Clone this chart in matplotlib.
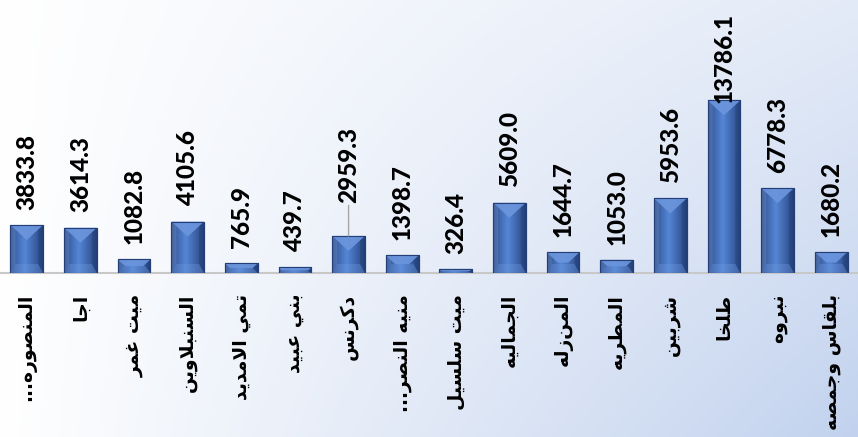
import numpy as np
import matplotlib
matplotlib.use("Agg")
import matplotlib.pyplot as plt
from matplotlib.patches import Polygon

# data
districts = ["المنصوره...", "اجا", "ميت غمر", "السنبلاوين", "تمي الامديد",
             "بني عبيد", "دكرنس", "منيه النصر...", "ميت سلسيل", "الجماليه",
             "المنزله", "المطريه", "شربين", "طلخا", "نبروه", "بلقاس وجمصه"]
values = [3833.8, 3614.3, 1082.8, 4105.6, 765.9, 439.7, 2959.3, 1398.7,
          326.4, 5609.0, 1644.7, 1053.0, 5953.6, 13786.1, 6778.3, 1680.2]

# --- minimal Arabic shaping (presentation forms) + RTL ordering ---
FORMS = {  # isolated, final, initial, medial
    "ا": (0xFE8D, 0xFE8E, None, None), "ب": (0xFE8F, 0xFE90, 0xFE91, 0xFE92),
    "ت": (0xFE95, 0xFE96, 0xFE97, 0xFE98), "ج": (0xFE9D, 0xFE9E, 0xFE9F, 0xFEA0),
    "خ": (0xFEA5, 0xFEA6, 0xFEA7, 0xFEA8), "د": (0xFEA9, 0xFEAA, None, None),
    "ر": (0xFEAD, 0xFEAE, None, None), "س": (0xFEB1, 0xFEB2, 0xFEB3, 0xFEB4),
    "ش": (0xFEB5, 0xFEB6, 0xFEB7, 0xFEB8), "ص": (0xFEB9, 0xFEBA, 0xFEBB, 0xFEBC),
    "ط": (0xFEC1, 0xFEC2, 0xFEC3, 0xFEC4), "ع": (0xFEC9, 0xFECA, 0xFECB, 0xFECC),
    "غ": (0xFECD, 0xFECE, 0xFECF, 0xFED0), "ق": (0xFED5, 0xFED6, 0xFED7, 0xFED8),
    "ك": (0xFED9, 0xFEDA, 0xFEDB, 0xFEDC), "ل": (0xFEDD, 0xFEDE, 0xFEDF, 0xFEE0),
    "م": (0xFEE1, 0xFEE2, 0xFEE3, 0xFEE4), "ن": (0xFEE5, 0xFEE6, 0xFEE7, 0xFEE8),
    "ه": (0xFEE9, 0xFEEA, 0xFEEB, 0xFEEC), "و": (0xFEED, 0xFEEE, None, None),
    "ي": (0xFEF1, 0xFEF2, 0xFEF3, 0xFEF4),
}


def joins_next(c):
    return c in FORMS and FORMS[c][2] is not None


def shape(text):
    out = []
    i = 0
    n = len(text)
    while i < n:
        c = text[i]
        if c not in FORMS:
            out.append(c)
            i += 1
            continue
        prev = text[i - 1] if i > 0 else ""
        con_prev = joins_next(prev)
        if c == "ل" and i + 1 < n and text[i + 1] == "ا":
            out.append(chr(0xFEFC if con_prev else 0xFEFB))
            i += 2
            continue
        nxt = text[i + 1] if i + 1 < n else ""
        con_next = joins_next(c) and nxt in FORMS
        iso, fin, ini, med = FORMS[c]
        if con_prev and con_next:
            g = med
        elif con_prev:
            g = fin
        elif con_next:
            g = ini
        else:
            g = iso
        out.append(chr(g))
        i += 1
    return "".join(out)[::-1]


labels = [shape(d) for d in districts]

W, H, DPI = 8.58, 4.37, 100
fig = plt.figure(figsize=(W, H), dpi=DPI)

# background gradient
bg = fig.add_axes([0, 0, 1, 1], zorder=-5)
gx, gy = np.meshgrid(np.linspace(0, 1, 300), np.linspace(0, 1, 150))
t = gx * (0.45 + 0.55 * gy)
c0 = np.array([255, 255, 255]) / 255
c1 = np.array([194, 210, 238]) / 255
img = c0 * (1 - t[..., None]) + c1 * t[..., None]
bg.imshow(img, extent=[0, 1, 0, 1], aspect="auto", origin="upper")
bg.axis("off")

base_px = 273
ax = fig.add_axes([0, (H * DPI - base_px) / (H * DPI), 1, base_px / (H * DPI)])
ax.patch.set_alpha(0)
x = np.arange(len(values))
ymax = 21800
ax.set_xlim(-0.5, len(values) - 0.5)
ax.set_ylim(0, ymax)

bars = ax.bar(x, values, width=0.61, color="#3d66b0", edgecolor="#243f78",
              linewidth=0.8, zorder=2)

# px -> data conversions
dxp = len(values) / (W * DPI)
dyp = ymax / base_px

grad = np.linspace(0, 1, 64)
prof = 1 - np.abs(grad - 0.45) * 2
cdark = np.array([0x2c, 0x4b, 0x88]) / 255
clight = np.array([0x55, 0x86, 0xd6]) / 255
bar_img = (cdark * (1 - prof[:, None]) + clight * prof[:, None])[None, :, :]

for b in bars:
    x0, y0 = b.get_x(), b.get_y()
    w, h = b.get_width(), b.get_height()
    x1, top = x0 + w, y0 + h
    im = ax.imshow(bar_img, extent=[x0, x1, y0, top], aspect="auto", zorder=2.1)
    im.set_clip_path(b)
    hw = w / 2
    s = 5 * dxp
    d = min(15 * dyp, h / 2)
    bd = min(9 * dyp, h / 2)
    ins = hw * d / (15 * dyp)
    left = Polygon([(x0, y0), (x0 + s, y0 + bd), (x0 + s, top - d * s / hw), (x0, top)],
                   closed=True, facecolor="white", alpha=0.10, lw=0, zorder=2.2)
    right = Polygon([(x1, y0), (x1 - s, y0 + bd), (x1 - s, top - d * s / hw), (x1, top)],
                    closed=True, facecolor="#0d2350", alpha=0.18, lw=0, zorder=2.2)
    bottom = Polygon([(x0, y0), (x1, y0), (x1 - s, y0 + bd), (x0 + s, y0 + bd)],
                     closed=True, facecolor="#6f9ae0", alpha=0.35, lw=0, zorder=2.3)
    topf = Polygon([(x0, top), (x1, top), (x1 - ins, top - d), (x0 + ins, top - d)],
                   closed=True, facecolor="#6c96dd", alpha=0.9, lw=0, zorder=2.4)
    for p in (left, right, bottom, topf):
        ax.add_patch(p)
    ax.add_patch(Polygon([(x0, y0), (x1, y0), (x1, top), (x0, top)],
                         closed=True, fill=False, edgecolor="#243f78", lw=0.8, zorder=2.5))

# value labels
imax = int(np.argmax(values))
num_font = dict(rotation=90, ha="center", va="bottom", fontsize=17.5,
                fontweight="black", family="Lato", zorder=4)
for i, v in enumerate(values):
    off = 11
    if i == imax:
        off = -2
    if i == 6:
        ax.annotate(f"{v:.1f}", (x[i], v), xytext=(0, 24), textcoords="offset points",
                    arrowprops=dict(arrowstyle="-", color="#a6a6a6", lw=1,
                                    shrinkA=0, shrinkB=0), **num_font)
    else:
        ax.annotate(f"{v:.1f}", (x[i], v), xytext=(0, off), textcoords="offset points",
                    **num_font)

ax.set_xticks(x)
ax.set_xticklabels(labels, rotation=90, fontsize=13.5, fontweight="bold",
                   family=["DejaVu Sans"], va="top")
ax.tick_params(axis="x", length=0, pad=15)
ax.set_yticks([])
for sp in ("top", "left", "right"):
    ax.spines[sp].set_visible(False)
ax.spines["bottom"].set_color("#c8c8c8")
ax.spines["bottom"].set_linewidth(1.5)
ax.spines["bottom"].set_zorder(1)

fig.savefig("out.png", dpi=DPI)
